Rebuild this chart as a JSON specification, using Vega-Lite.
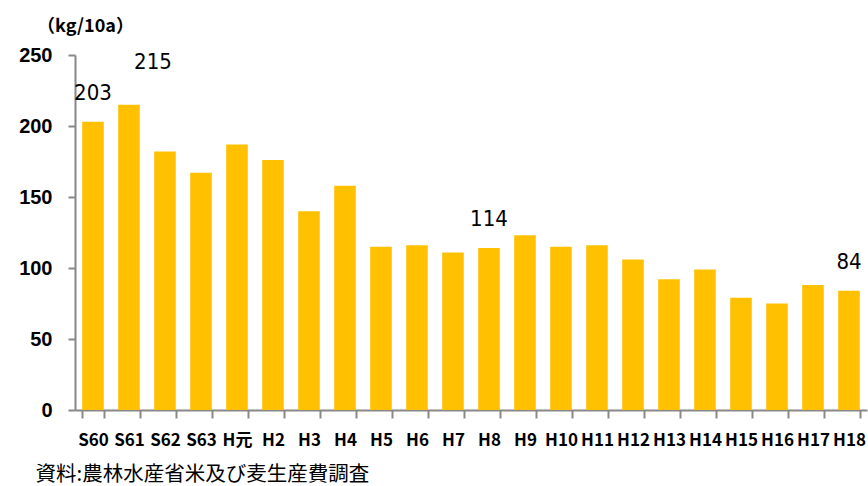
{
  "$schema": "https://vega.github.io/schema/vega-lite/v6.json",
  "width": 792,
  "height": 355,
  "autosize": {"type": "none"},
  "padding": {"left": 75, "top": 55, "right": 1, "bottom": 76},
  "background": "white",
  "config": {"view": {"stroke": null}, "font": "Liberation Sans"},
  "data": {"values": [
    {"year": "S60", "value": 203, "label": "203"},
    {"year": "S61", "value": 215, "label": "215"},
    {"year": "S62", "value": 182, "label": ""},
    {"year": "S63", "value": 167, "label": ""},
    {"year": "H元", "value": 187, "label": ""},
    {"year": "H2", "value": 176, "label": ""},
    {"year": "H3", "value": 140, "label": ""},
    {"year": "H4", "value": 158, "label": ""},
    {"year": "H5", "value": 115, "label": ""},
    {"year": "H6", "value": 116, "label": ""},
    {"year": "H7", "value": 111, "label": ""},
    {"year": "H8", "value": 114, "label": "114"},
    {"year": "H9", "value": 123, "label": ""},
    {"year": "H10", "value": 115, "label": ""},
    {"year": "H11", "value": 116, "label": ""},
    {"year": "H12", "value": 106, "label": ""},
    {"year": "H13", "value": 92, "label": ""},
    {"year": "H14", "value": 99, "label": ""},
    {"year": "H15", "value": 79, "label": ""},
    {"year": "H16", "value": 75, "label": ""},
    {"year": "H17", "value": 88, "label": ""},
    {"year": "H18", "value": 84, "label": "84"}
  ]},
  "encoding": {
    "x": {
      "field": "year", "type": "nominal", "sort": null,
      "scale": {"paddingInner": 0.4, "paddingOuter": 0.2},
      "axis": {
        "title": "資料:農林水産省米及び麦生産費調査",
        "titleFont": "Noto Sans CJK JP", "titleFontSize": 20.5, "titleFontWeight": "normal",
        "titleColor": "black", "titleAlign": "left", "titleAnchor": "start",
        "titleX": -40, "titleY": 70, "titleBaseline": "alphabetic",
        "labelAngle": 0, "labelFont": "Noto Sans CJK JP", "labelFontSize": 17, "labelFontWeight": "bold",
        "labelColor": "black", "labelPadding": 14, "labelOverlap": false,
        "tickBand": "extent", "tickColor": "#888888", "tickSize": 8, "tickWidth": 2,
        "domainColor": "#888888", "domainWidth": 2
      }
    },
    "y": {
      "field": "value", "type": "quantitative",
      "scale": {"domain": [0, 250], "nice": false},
      "axis": {
        "values": [0, 50, 100, 150, 200, 250],
        "title": "（kg/10a）", "titleFont": "Noto Sans CJK JP", "titleAngle": 0, "titleX": 10, "titleY": -29,
        "titleAlign": "center", "titleBaseline": "middle",
        "titleFontSize": 18, "titleFontWeight": "bold", "titleColor": "black",
        "labelFontSize": 20, "labelFontWeight": "bold", "labelColor": "black",
        "labelPadding": 16, "grid": false,
        "tickColor": "#888888", "tickSize": 7, "tickWidth": 2,
        "domainColor": "#888888", "domainWidth": 2
      }
    }
  },
  "layer": [
    {"mark": {"type": "bar", "color": "#FFC000"}},
    {
      "transform": [{"filter": "datum.label != '' && datum.value != 215"}],
      "mark": {"type": "text", "baseline": "bottom", "dy": -17, "fontSize": 22, "font": "DejaVu Sans Condensed", "color": "black"},
      "encoding": {"text": {"field": "label"}}
    },
    {
      "transform": [{"filter": "datum.value == 215"}],
      "mark": {"type": "text", "baseline": "bottom", "dy": -31, "dx": 24, "fontSize": 22, "font": "DejaVu Sans Condensed", "color": "black"},
      "encoding": {"text": {"field": "label"}}
    }
  ]
}
